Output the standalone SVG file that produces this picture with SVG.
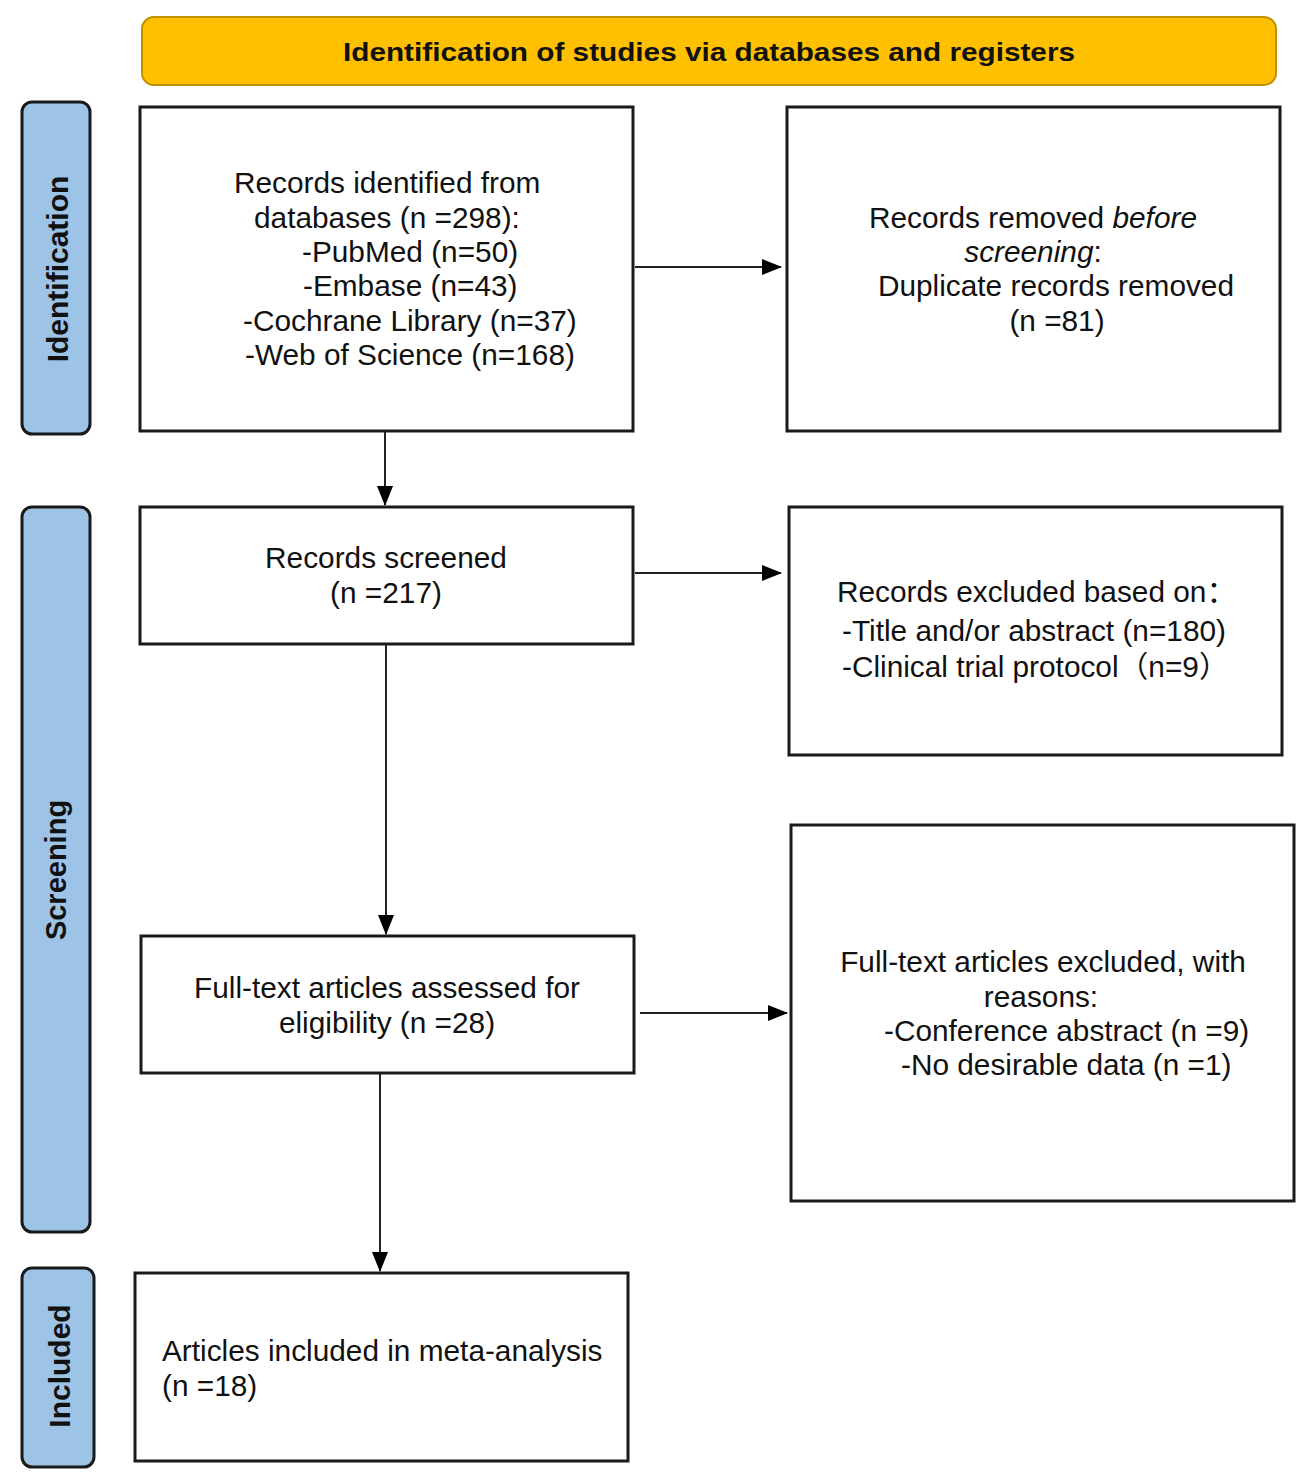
<svg xmlns="http://www.w3.org/2000/svg" width="1299" height="1484" viewBox="0 0 1299 1484">
<defs>
<marker id="arr" markerUnits="userSpaceOnUse" markerWidth="20" markerHeight="16" refX="19" refY="8" orient="auto">
<path d="M0,0 L20,8 L0,16 Z" fill="#000"/>
</marker>
<style>
.box{fill:#fff;stroke:#1a1a1a;stroke-width:3}
.side{fill:#9DC3E6;stroke:#1a1a1a;stroke-width:3}
.t{font-family:"Liberation Sans",Arial,"Noto Sans CJK SC",sans-serif;font-size:29.8px;fill:#111}
.c{text-anchor:middle}
.sl{font-family:"Liberation Sans",Arial,sans-serif;font-size:30px;font-weight:bold;fill:#111;text-anchor:middle}
.ln{stroke:#222;stroke-width:2;fill:none}
</style>
</defs>
<rect width="1299" height="1484" fill="#fff"/>
<g id="header">
<rect x="142" y="17" width="1134" height="68" rx="12" fill="#FFC000" stroke="#BF9000" stroke-width="2"/>
<text x="709" y="61" class="t c" style="font-weight:bold;font-size:26px" textLength="732" lengthAdjust="spacingAndGlyphs">Identification of studies via databases and registers</text>
</g>
<g id="side-identification">
<rect x="22" y="102" width="68" height="332" rx="10" class="side"/>
<text class="sl" transform="translate(68,269) rotate(-90)">Identification</text>
</g>
<g id="side-screening">
<rect x="22" y="507" width="68" height="725" rx="10" class="side"/>
<text class="sl" transform="translate(66,870) rotate(-90)" style="font-size:29px">Screening</text>
</g>
<g id="side-included">
<rect x="22" y="1268" width="72" height="199" rx="10" class="side"/>
<text class="sl" transform="translate(70,1366) rotate(-90)">Included</text>
</g>
<g id="connectors">
<line x1="635" y1="267" x2="781" y2="267" class="ln" marker-end="url(#arr)"/>
<line x1="385" y1="431" x2="385" y2="505" class="ln" marker-end="url(#arr)"/>
<line x1="635" y1="573" x2="781" y2="573" class="ln" marker-end="url(#arr)"/>
<line x1="386" y1="644" x2="386" y2="934" class="ln" marker-end="url(#arr)"/>
<line x1="640" y1="1013" x2="787" y2="1013" class="ln" marker-end="url(#arr)"/>
<line x1="380" y1="1073" x2="380" y2="1271" class="ln" marker-end="url(#arr)"/>
</g>
<g id="records-identified">
<rect x="140" y="107" width="493" height="324" class="box"/>
<text class="t" x="234" y="193">Records identified from</text>
<text class="t" x="254" y="228">databases (n =298):</text>
<text class="t" x="302" y="262">-PubMed (n=50)</text>
<text class="t" x="303" y="296">-Embase (n=43)</text>
<text class="t" x="243" y="331">-Cochrane Library (n=37)</text>
<text class="t" x="245" y="365">-Web of Science (n=168)</text>
</g>
<g id="records-removed">
<rect x="787" y="107" width="493" height="324" class="box"/>
<text class="t c" x="1033" y="228">Records removed <tspan font-style="italic">before</tspan></text>
<text class="t c" x="1033" y="262"><tspan font-style="italic">screening</tspan>:</text>
<text class="t c" x="1056" y="296">Duplicate records removed</text>
<text class="t c" x="1057" y="331">(n =81)</text>
</g>
<g id="records-screened">
<rect x="140" y="507" width="493" height="137" class="box"/>
<text class="t c" x="386" y="568">Records screened</text>
<text class="t c" x="386" y="603">(n =217)</text>
</g>
<g id="records-excluded">
<rect x="789" y="507" width="493" height="248" class="box"/>
<text class="t" x="837" y="602">Records excluded based on：</text>
<text class="t" x="842" y="641">-Title and/or abstract (n=180)</text>
<text class="t" x="842" y="677">-Clinical trial protocol（n=9）</text>
</g>
<g id="fulltext-assessed">
<rect x="141" y="936" width="493" height="137" class="box"/>
<text class="t c" x="387" y="998">Full-text articles assessed for</text>
<text class="t c" x="387" y="1033">eligibility (n =28)</text>
</g>
<g id="fulltext-excluded">
<rect x="791" y="825" width="503" height="376" class="box"/>
<text class="t c" x="1043" y="972">Full-text articles excluded, with</text>
<text class="t c" x="1041" y="1007">reasons:</text>
<text class="t" x="884" y="1041">-Conference abstract (n =9)</text>
<text class="t" x="901" y="1075">-No desirable data (n =1)</text>
</g>
<g id="included">
<rect x="135" y="1273" width="493" height="188" class="box"/>
<text class="t" x="162" y="1361">Articles included in meta-analysis</text>
<text class="t" x="162" y="1396">(n =18)</text>
</g>
</svg>
